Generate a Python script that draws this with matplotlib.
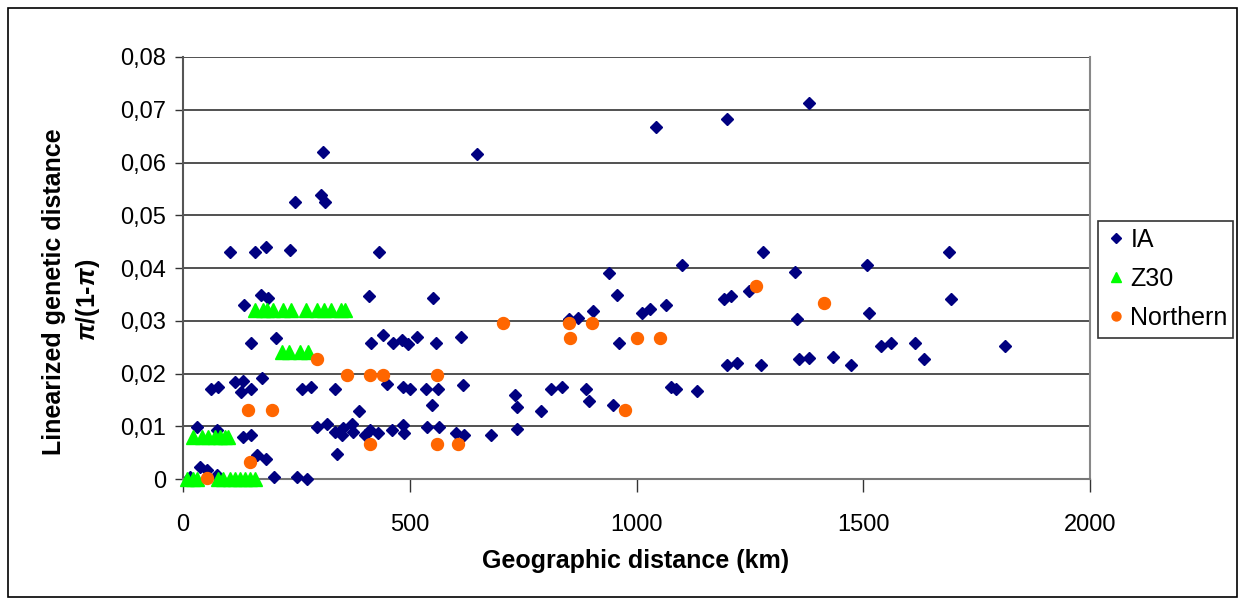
import matplotlib
matplotlib.use("Agg")
import matplotlib.pyplot as plt
from matplotlib.patches import Rectangle
from matplotlib.ticker import FuncFormatter

plt.rcParams['font.family'] = ['Liberation Sans', 'DejaVu Sans']
plt.rcParams['mathtext.fontset'] = 'custom'
plt.rcParams['mathtext.it'] = 'Liberation Sans:bold:italic'
plt.rcParams['mathtext.rm'] = 'Liberation Sans:bold'
plt.rcParams['mathtext.bf'] = 'Liberation Sans:bold'

# IA pairs: geographic distance (km), linearized genetic distance
ia_x = [1380, 1200, 1042, 649, 309, 248, 304, 314,
        103, 159, 182, 235, 433, 1279, 1689,
        1100, 1509, 939, 1349,
        171, 187, 411, 552, 957, 1194, 1208, 1694, 1248,
        134, 1064, 1012, 1029, 905, 870, 851, 1353, 1513,
        151, 204, 415, 442, 464, 482, 497, 517, 557, 614, 962,
        1200, 1222, 1275, 1358, 1381, 1433, 1473, 1539, 1561, 1615, 1633, 1813,
        174, 115, 133, 127, 151, 61, 78, 263, 283, 336, 450,
        486, 500, 535, 563, 618, 548, 733, 737, 790, 811, 835, 888, 896, 949,
        1077, 1087, 1134, 389,
        30, 74, 133, 151, 295, 317, 335, 350, 353, 372, 375, 401, 412, 431,
        460, 486, 487, 539, 565, 603, 620, 680, 737,
        340, 163, 182, 37, 52, 74, 15, 201, 252, 274]
ia_y = [0.0713, 0.0682, 0.0667, 0.0617, 0.0620, 0.0526, 0.0538, 0.0526,
        0.0431, 0.0431, 0.0439, 0.0435, 0.0431, 0.0431, 0.0431,
        0.0405, 0.0405, 0.0390, 0.0393,
        0.0349, 0.0344, 0.0347, 0.0344, 0.0348, 0.0341, 0.0347, 0.0341, 0.0356,
        0.0330, 0.0329, 0.0314, 0.0322, 0.0318, 0.0306, 0.0303, 0.0303, 0.0314,
        0.0257, 0.0268, 0.0257, 0.0273, 0.0257, 0.0263, 0.0255, 0.0269, 0.0257, 0.0269, 0.0257,
        0.0216, 0.0219, 0.0216, 0.0227, 0.0230, 0.0231, 0.0216, 0.0253, 0.0257, 0.0257, 0.0227, 0.0253,
        0.0192, 0.0183, 0.0186, 0.0165, 0.0170, 0.0170, 0.0174, 0.0170, 0.0174, 0.0170, 0.0180,
        0.0174, 0.0170, 0.0170, 0.0170, 0.0178, 0.0140, 0.0159, 0.0137, 0.0129, 0.0170, 0.0174, 0.0170, 0.0148, 0.0140,
        0.0175, 0.0170, 0.0166, 0.0128,
        0.0099, 0.0093, 0.0080, 0.0083, 0.0099, 0.0104, 0.0090, 0.0083, 0.0096, 0.0104, 0.0090, 0.0083, 0.0092, 0.0088,
        0.0093, 0.0102, 0.0088, 0.0098, 0.0098, 0.0088, 0.0083, 0.0083, 0.0095,
        0.0047, 0.0045, 0.0037, 0.0023, 0.0017, 0.0008, 0.0004, 0.0004, 0.0004, 0.0000]

z30_x = [159, 176, 186, 198, 220, 239, 272, 296, 312, 326, 349, 357,
         218, 234, 258, 275,
         23, 41, 56, 71, 82, 93, 100,
         8, 23, 30, 78, 89, 104, 115, 126, 137, 148, 159]
z30_y = [0.032] * 12 + [0.024] * 4 + [0.008] * 7 + [0.0] * 11

north_x = [1264, 1413, 705, 851, 902, 854, 1000, 1052, 295, 361, 412, 440, 559,
           144, 197, 974, 412, 559, 607, 148, 52]
north_y = [0.0365, 0.0334, 0.0296, 0.0296, 0.0296, 0.0267, 0.0267, 0.0267, 0.0228,
           0.0198, 0.0198, 0.0198, 0.0198, 0.0131, 0.0131, 0.0131, 0.0067, 0.0066,
           0.0066, 0.0033, 0.0001]

fig = plt.figure(figsize=(12.45, 6.05), dpi=100)
ax = fig.add_axes([183 / 1245, 1 - 479 / 605, (1090 - 183) / 1245, (479 - 57) / 605])

ax.plot(ia_x, ia_y, ls='none', marker='D', ms=6.6, color='#000080', label='IA', clip_on=False, zorder=3)
ax.plot(z30_x, z30_y, ls='none', marker='^', ms=10, color='#00FF00', label='Z30', clip_on=False, zorder=3)
ax.plot(north_x, north_y, ls='none', marker='o', ms=8.6, color='#FF6600', label='Northern', clip_on=False, zorder=3)

ax.set_xlim(0, 2000)
ax.set_ylim(0, 0.08)
ax.set_xticks([0, 500, 1000, 1500, 2000])
ax.set_yticks([i / 100 for i in range(9)])
ax.yaxis.set_major_formatter(FuncFormatter(lambda v, p: '0' if v == 0 else f'{v:.2f}'.replace('.', ',')))
ax.tick_params(labelsize=17, length=6, width=1, color='#333333', direction='out', pad=6)
ax.tick_params(axis='x', length=9, pad=16)
ax.grid(axis='y', color='#222222', lw=1.1)
ax.set_axisbelow(True)
ax.spines['top'].set_visible(False)
ax.spines['left'].set_color('#555555')
ax.spines['bottom'].set_color('#777777')
ax.spines['right'].set_color('#888888')
for s in ['left', 'bottom', 'right']:
    ax.spines[s].set_linewidth(1.5)

fig.text(636 / 1245, 1 - 561 / 605, 'Geographic distance (km)', ha='center', va='center',
         fontsize=18, fontweight='bold')
fig.text(54 / 1245, 1 - 292 / 605, 'Linearized genetic distance', ha='center', va='center',
         rotation=90, fontsize=18, fontweight='bold')
fig.text(88 / 1245, 1 - 300 / 605, r'$\pi$/(1-$\pi$)', ha='center', va='center',
         rotation=90, fontsize=18, fontweight='bold')

leg = ax.legend(loc='center left', bbox_to_anchor=(1098 / 1245, 1 - 342 / 605, 135 / 1245, 126 / 605),
                bbox_transform=fig.transFigure, mode='expand', fontsize=18, frameon=True,
                fancybox=False, edgecolor='black', labelspacing=0.6, handlelength=0.8,
                handletextpad=0.2, borderaxespad=0, borderpad=0.3, markerscale=0.75)
leg.get_frame().set_linewidth(1.2)

fig.patches.append(Rectangle((8 / 1245, 8 / 605), 1229 / 1245, 589 / 605, transform=fig.transFigure,
                             fill=False, edgecolor='black', lw=1.2))

fig.savefig('out.png', dpi=100)
